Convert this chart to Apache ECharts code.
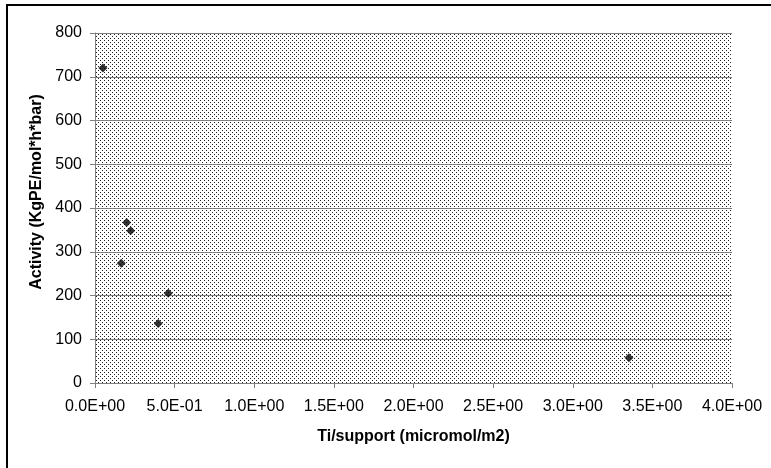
<!DOCTYPE html>
<html>
<head>
<meta charset="utf-8">
<script src="https://cdn.jsdelivr.net/npm/echarts@6/dist/echarts.min.js"></script>
<style>
  html, body { margin: 0; padding: 0; background: #fff; }
  #chart { width: 771px; height: 468px; }
</style>
</head>
<body>
<div id="chart"></div>
<script>
// Ti loading vs activity
const tiSupport = [0.05, 0.199, 0.224, 0.165, 0.46, 0.397, 3.353];
const activity = [720, 367, 348, 274, 205, 136, 58];
const xTicks = [0, 0.5, 1, 1.5, 2, 2.5, 3, 3.5, 4];
const yTicks = [0, 100, 200, 300, 400, 500, 600, 700, 800];

// excel-like dotted fill
const tile = document.createElement('canvas');
tile.width = 4;
tile.height = 4;
const ctx = tile.getContext('2d');
ctx.fillStyle = '#ffffff';
ctx.fillRect(0, 0, 4, 4);
ctx.fillStyle = '#222222';
ctx.fillRect(0, 0, 1, 1);
ctx.fillRect(2, 2, 1, 1);

const sciLabel = (v) => {
  const [m, e] = v.toExponential(1).split('e');
  const n = parseInt(e, 10);
  const exp = (n < 0 ? '-' : '+') + String(Math.abs(n)).padStart(2, '0');
  return m + 'E' + exp;
};

const chart = echarts.init(document.getElementById('chart'));
chart.setOption({
  animation: false,
  textStyle: { fontFamily: 'Liberation Sans, Arial, sans-serif' },
  grid: {
    left: 95,
    right: 39,
    top: 33,
    bottom: 85,
    show: true,
    borderWidth: 0,
    backgroundColor: { image: tile, repeat: 'repeat' }
  },
  graphic: [
    {
      type: 'rect',
      shape: { x: 7, y: 5, width: 800, height: 500 },
      style: { fill: 'none', stroke: '#000', lineWidth: 2 },
      silent: true
    }
  ],
  xAxis: {
    type: 'value',
    min: xTicks[0],
    max: xTicks[xTicks.length - 1],
    interval: 0.5,
    name: 'Ti/support (micromol/m2)',
    nameLocation: 'middle',
    nameGap: 46,
    nameTextStyle: { fontSize: 16, fontWeight: 'bold', color: '#000' },
    axisLine: { show: true, lineStyle: { color: '#808080', width: 1 } },
    axisTick: { show: true, inside: false, length: 5, lineStyle: { color: '#808080' } },
    axisLabel: { color: '#000', fontSize: 16, margin: 16, formatter: sciLabel },
    splitLine: { show: false }
  },
  yAxis: {
    type: 'value',
    min: yTicks[0],
    max: yTicks[yTicks.length - 1],
    interval: 100,
    name: 'Activity (KgPE/mol*h*bar)',
    nameLocation: 'middle',
    nameGap: 50,
    nameTextStyle: { fontSize: 16, fontWeight: 'bold', color: '#000', padding: [0, 0, 0, 32] },
    axisLine: { show: true, lineStyle: { color: '#808080', width: 1 } },
    axisTick: { show: true, inside: false, length: 5, lineStyle: { color: '#808080' } },
    axisLabel: { color: '#000', fontSize: 16, margin: 13 },
    splitLine: { show: true, lineStyle: { color: '#808080', width: 1 } }
  },
  series: [
    {
      type: 'scatter',
      symbol: 'diamond',
      symbolSize: 9,
      itemStyle: { color: '#000' },
      data: tiSupport.map((x, i) => [x, activity[i]])
    }
  ]
});
</script>
</body>
</html>
